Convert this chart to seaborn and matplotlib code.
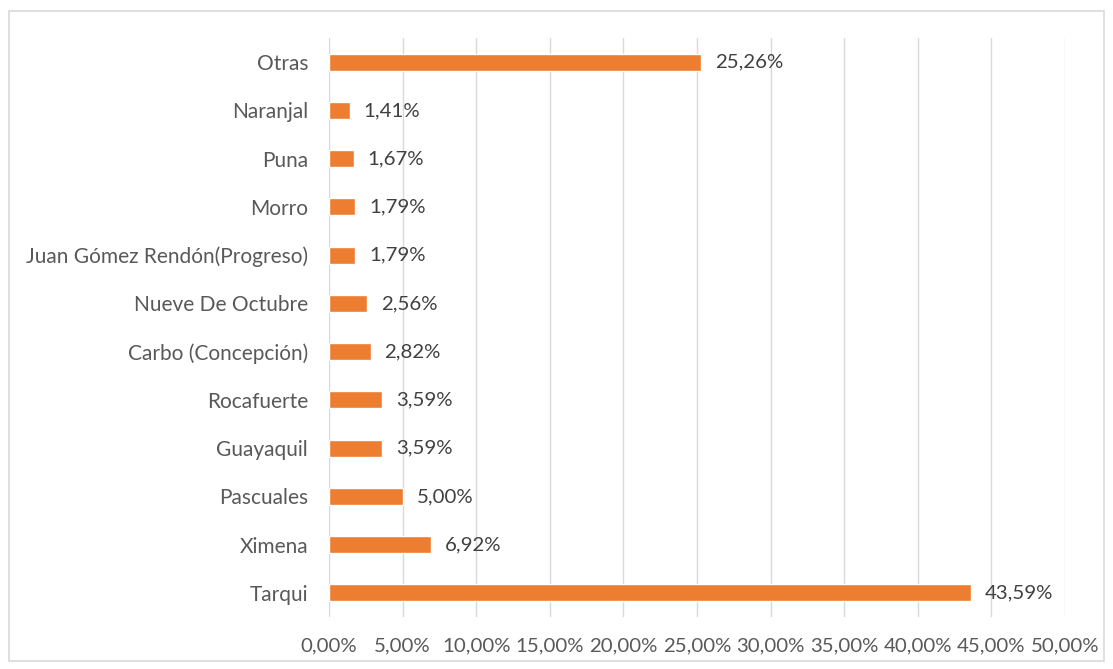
import pandas as pd
import matplotlib.pyplot as plt
import seaborn as sns
from matplotlib.patches import Rectangle

# Datos (porcentajes)
parroquias = ['Otras', 'Naranjal', 'Puna', 'Morro', 'Juan Gómez Rendón(Progreso)',
              'Nueve De Octubre', 'Carbo (Concepción)', 'Rocafuerte', 'Guayaquil',
              'Pascuales', 'Ximena', 'Tarqui']
porcentajes = [25.26, 1.41, 1.67, 1.79, 1.79, 2.56, 2.82, 3.59, 3.59, 5.00, 6.92, 43.59]

df = pd.DataFrame({'parroquia': parroquias, 'pct': porcentajes})

sns.set_style('white')
plt.rcParams['font.family'] = ['Lato', 'DejaVu Sans']

fig = plt.figure(figsize=(11.13, 6.69), dpi=100)
ax = fig.add_axes([0.2956, 0.0777, 0.6613, 0.8655])

sns.barplot(data=df, y='parroquia', x='pct', orient='h', color='#ED7D31',
            saturation=1, width=0.35, ax=ax)

def fmt(v):
    return f'{v:.2f}%'.replace('.', ',')

for i, v in enumerate(porcentajes):
    ax.text(v + 0.95, i, fmt(v), va='center', ha='left', fontsize=14.7, color='#404040')

ax.set_xlim(0, 50)
ax.set_ylim(11.5, -0.5)
ticks = [i * 5 for i in range(11)]
ax.set_xticks(ticks)
ax.set_xticklabels([fmt(t) for t in ticks])
ax.grid(axis='x', color='#D9D9D9', linewidth=1)
ax.set_axisbelow(True)
ax.set_xlabel('')
ax.set_ylabel('')
for s in ax.spines.values():
    s.set_visible(False)
ax.tick_params(axis='both', length=0, colors='#595959')
ax.tick_params(axis='x', pad=15, labelsize=14.7)
ax.tick_params(axis='y', pad=15, labelsize=15)

# borde del gráfico
fig.patches.append(Rectangle((0.008, 0.012), 0.984, 0.972, transform=fig.transFigure,
                             fill=False, edgecolor='#D9D9D9', linewidth=1.2))

fig.savefig('out.png', dpi=100)
